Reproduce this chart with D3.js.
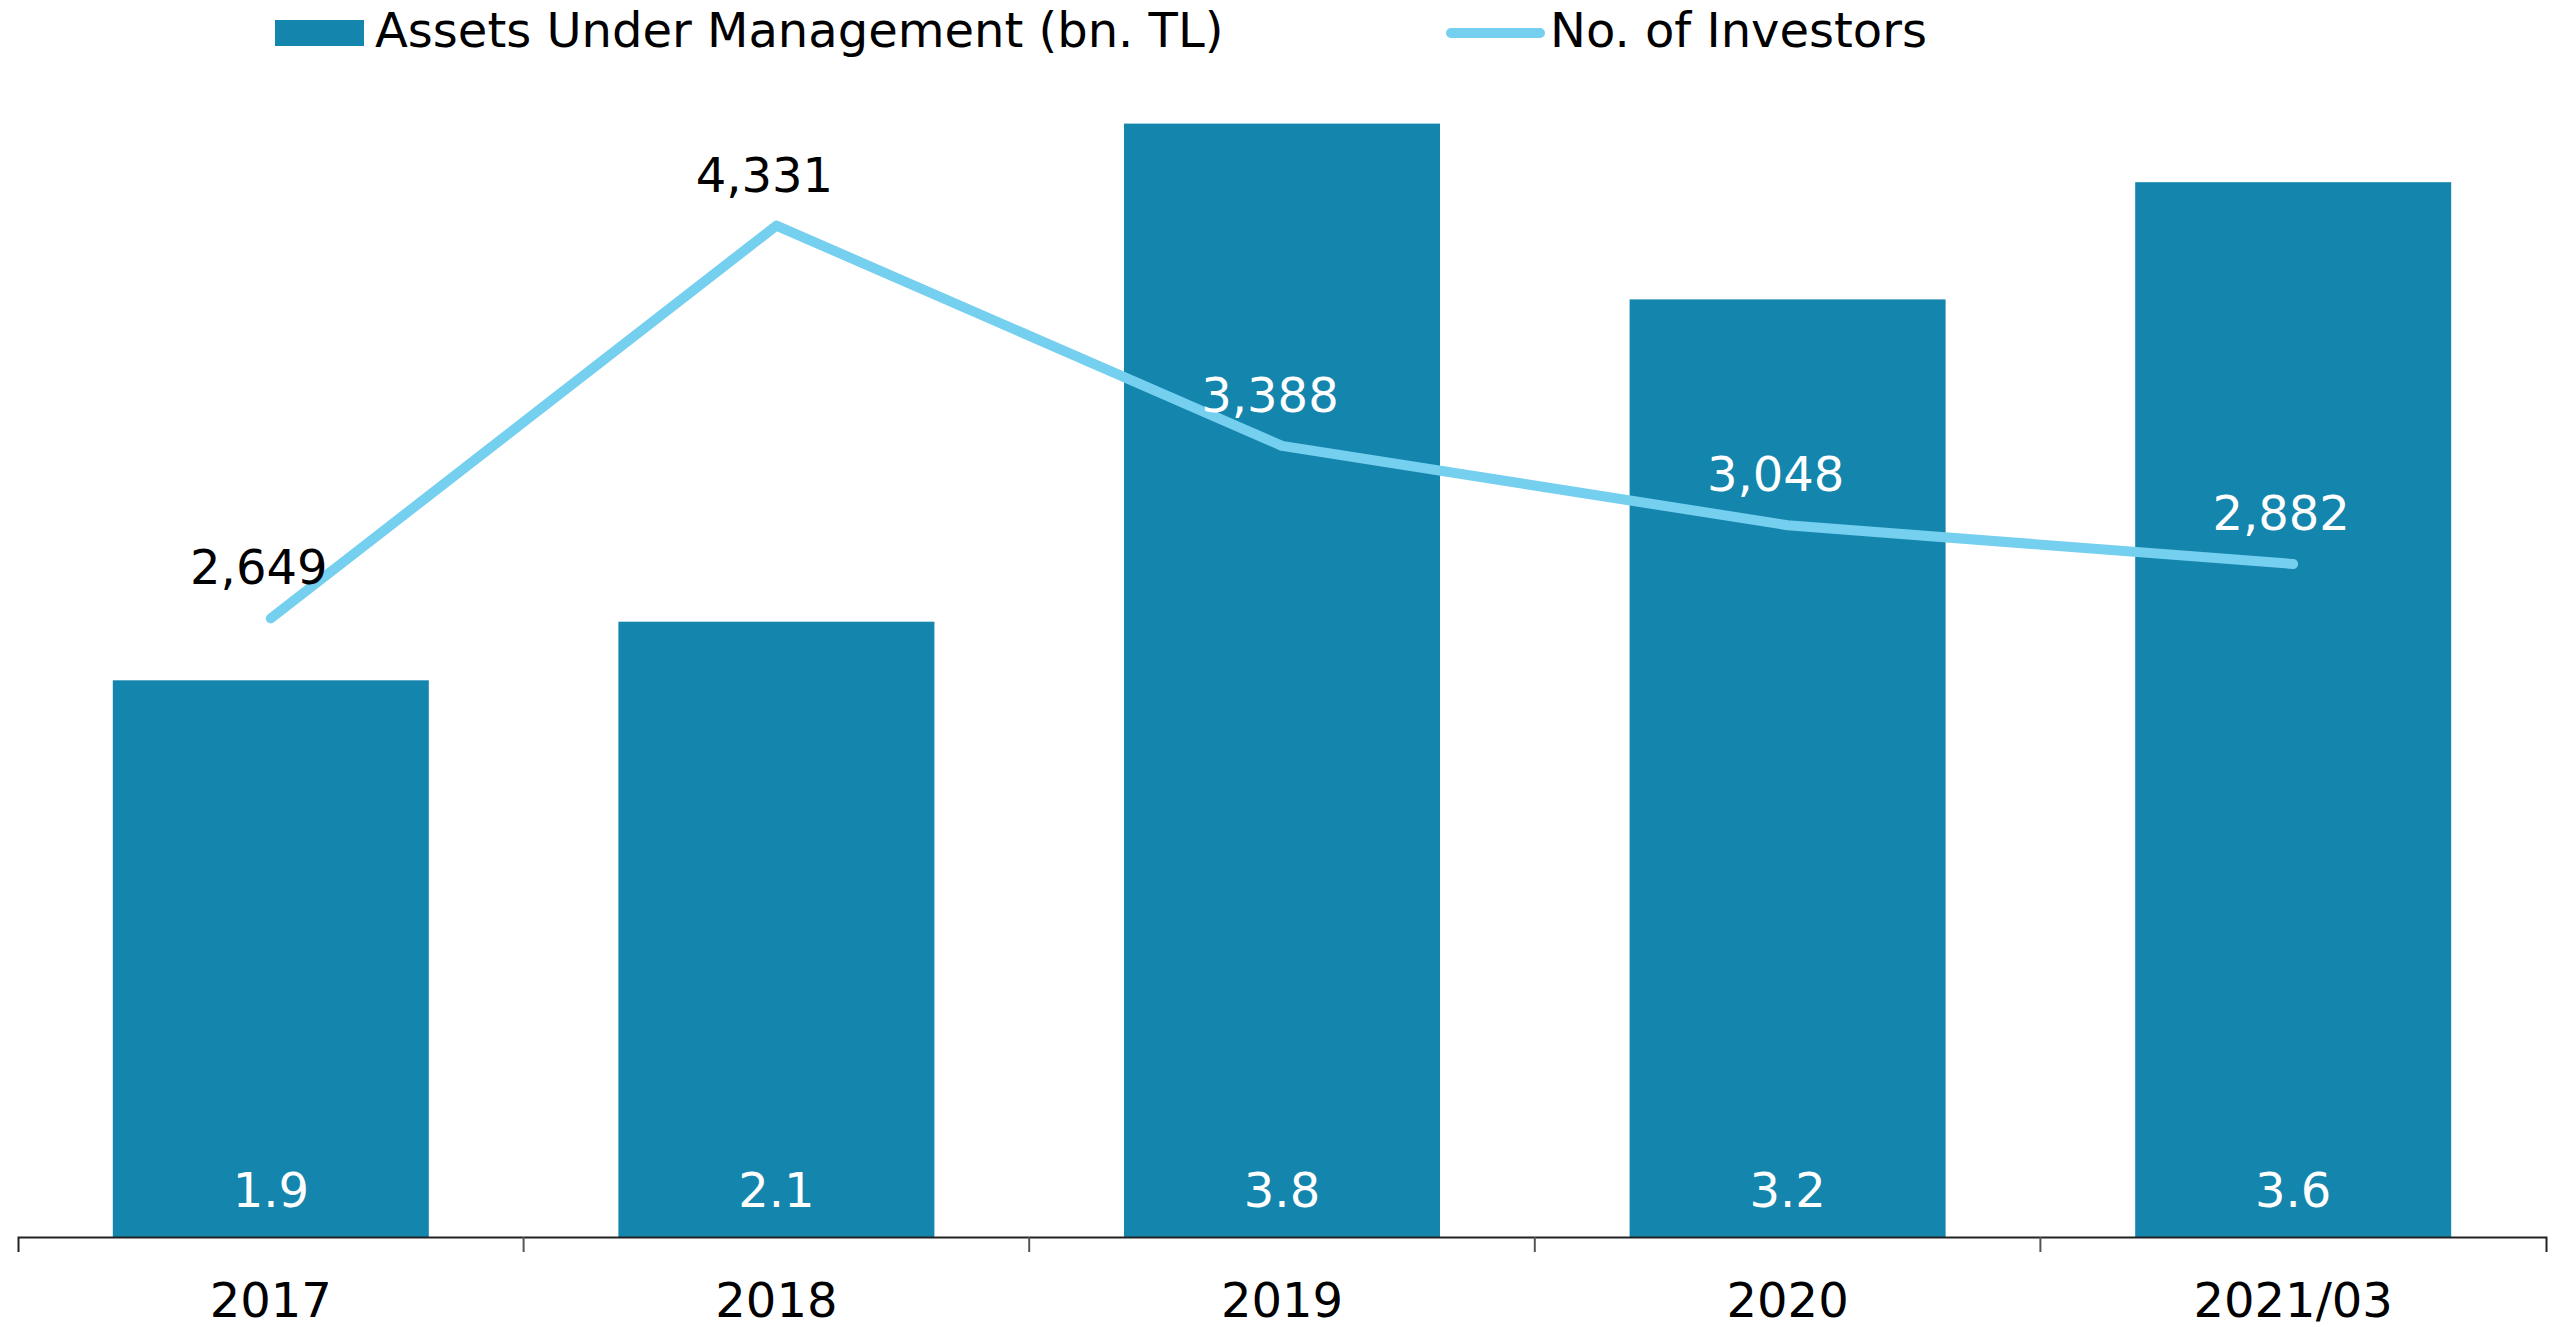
<!DOCTYPE html>
<html>
<head>
<meta charset="utf-8">
<script src="https://cdn.jsdelivr.net/npm/d3@7"></script>
<style>
  html, body { margin: 0; padding: 0; background: #fff; }
  svg { display: block; font-family: "DejaVu Sans", Verdana, sans-serif; }
</style>
</head>
<body>
<svg id="chart" width="2564" height="1327"></svg>
<script>
// Categories and series
const categories = ["2017", "2018", "2019", "2020", "2021/03"];
const assets = [1.9, 2.1, 3.8, 3.2, 3.6];            // bn. TL
const investors = [2649, 4331, 3388, 3048, 2882];    // no. of investors
const seriesNames = ["Assets Under Management (bn. TL)", "No. of Investors"];

const barColor = "#1485ad";
const lineColor = "#75cfef";
const fontSize = 48;

const svg = d3.select("#chart");
const baseY = 1237;

const x = d3.scaleBand()
  .domain(categories)
  .range([18, 2546])
  .paddingInner(0.375)
  .paddingOuter(0.1875);

const yBar = d3.scaleLinear().domain([0, 4.2]).range([baseY, baseY - 4.2 * 293]);
const yLine = d3.scaleLinear().domain([0, 5250]).range([baseY, 11]);

const cx = d => x(d) + x.bandwidth() / 2;

// Bars
svg.append("g").selectAll("rect")
  .data(categories)
  .join("rect")
  .attr("x", d => x(d))
  .attr("width", x.bandwidth())
  .attr("y", (d, i) => yBar(assets[i]))
  .attr("height", (d, i) => baseY - yBar(assets[i]))
  .attr("fill", barColor);

// Bar value labels, inside at the base
svg.append("g").selectAll("text")
  .data(categories)
  .join("text")
  .attr("x", d => cx(d))
  .attr("y", baseY - 30)
  .attr("text-anchor", "middle")
  .attr("font-size", fontSize)
  .attr("fill", "#fff")
  .text((d, i) => d3.format(".1f")(assets[i]));

// Investors line
const line = d3.line()
  .x(d => cx(d[0]))
  .y(d => yLine(d[1]));
const pts = categories.map((c, i) => [c, investors[i]]);
svg.append("path")
  .datum(pts)
  .attr("d", line)
  .attr("fill", "none")
  .attr("stroke", lineColor)
  .attr("stroke-width", 10)
  .attr("stroke-linecap", "round")
  .attr("stroke-linejoin", "round");

// Line value labels: white over a bar, black otherwise
svg.append("g").selectAll("text")
  .data(pts)
  .join("text")
  .attr("x", d => cx(d[0]) - 12)
  .attr("y", d => yLine(d[1]) - 34)
  .attr("text-anchor", "middle")
  .attr("font-size", fontSize)
  .attr("fill", (d, i) => (yLine(d[1]) - 34 - fontSize * 0.73) > yBar(assets[i]) ? "#fff" : "#000")
  .text(d => d3.format(",")(d[1]));

// Category axis
const axis = d3.axisBottom(x).tickSize(0).tickSizeOuter(15).tickPadding(46);
const gx = svg.append("g").attr("transform", `translate(0,${baseY})`).call(axis);
gx.select(".domain").attr("stroke", "#222").attr("stroke-width", 2);
gx.selectAll("text")
  .attr("font-size", fontSize)
  .attr("font-family", "'DejaVu Sans', Verdana, sans-serif")
  .attr("fill", "#000");

// Separators between categories
const gap = (x.step() - x.bandwidth()) / 2;
gx.append("g").selectAll("line")
  .data(categories.slice(1))
  .join("line")
  .attr("x1", d => x(d) - gap)
  .attr("x2", d => x(d) - gap)
  .attr("y1", 0)
  .attr("y2", 15)
  .attr("stroke", "#555")
  .attr("stroke-width", 2);

// Legend
const legend = svg.append("g");
legend.append("rect")
  .attr("x", 275).attr("y", 20).attr("width", 89).attr("height", 26)
  .attr("fill", barColor);
legend.append("text")
  .attr("x", 375).attr("y", 47)
  .attr("font-size", fontSize).attr("fill", "#000")
  .text(seriesNames[0]);
legend.append("line")
  .attr("x1", 1451).attr("x2", 1540).attr("y1", 33).attr("y2", 33)
  .attr("stroke", lineColor).attr("stroke-width", 10).attr("stroke-linecap", "round");
legend.append("text")
  .attr("x", 1550).attr("y", 47)
  .attr("font-size", fontSize).attr("fill", "#000")
  .text(seriesNames[1]);
</script>
</body>
</html>
